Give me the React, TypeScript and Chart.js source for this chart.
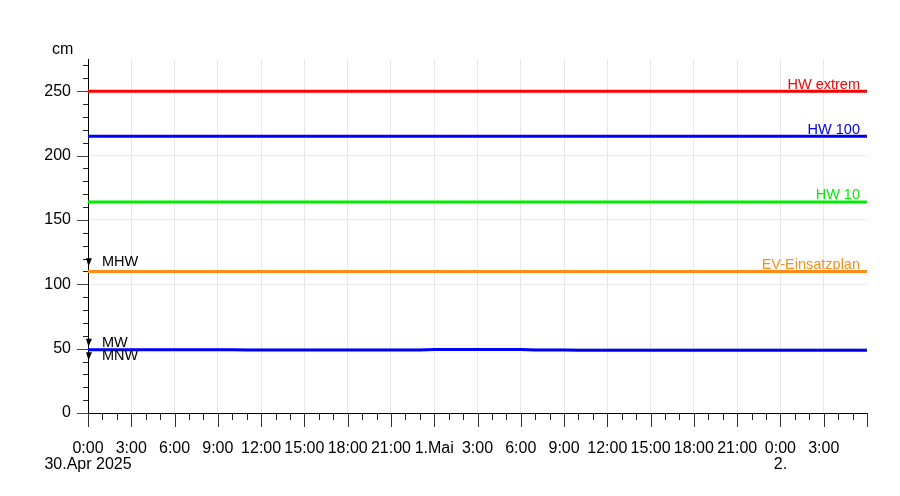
import React, { useEffect, useRef } from "react";
import { Chart, registerables } from "chart.js";

Chart.register(...registerables);

// Water level (cm), hourly from 30.Apr 2025 0:00
const levelValues = [
  49.1, 49.1, 49.1, 49.1, 49.1, 49.1, 49.1, 49.1, 49.1, 49.1, 49.1,
  48.9, 48.9, 48.9, 48.9, 48.9, 48.9, 48.9, 48.9, 48.9, 48.9, 48.9, 48.9, 48.9,
  49.3, 49.3, 49.3, 49.3, 49.3, 49.3, 49.3,
  49.0, 49.0, 49.0,
  48.8, 48.8, 48.8,
  48.7, 48.7, 48.7, 48.7, 48.7, 48.7, 48.7, 48.7, 48.7, 48.7, 48.7, 48.7, 48.7, 48.7, 48.7, 48.7, 48.7, 48.7,
];

const thresholdNames = ["HW extrem", "HW 100", "HW 10", "EV-Einsatzplan"];
const thresholdValues = [250, 215, 164, 110];
const thresholdColors = ["#ff0000", "#0000ff", "#00ee00", "#ff8c1a"];

const markerNames = ["MHW", "MW", "MNW"];
const markerValues = [114, 51.5, 41];

const dayLabels = [["0:00", "30.Apr 2025"], ["1.Mai"], ["0:00", "2."]];
const yTickValues = [0, 50, 100, 150, 200, 250];

const X_MAX = 54;
const Y_MAX = 275;
const FONT = "'Liberation Sans', Arial, Helvetica, sans-serif";

const overlay = {
  id: "overlay",
  afterDraw(chart: any) {
    const { ctx, chartArea } = chart;
    const x = chart.scales.x;
    const y = chart.scales.y;
    ctx.save();
    // x tick marks
    ctx.lineWidth = 1;
    for (let h = 0; h <= X_MAX; h++) {
      const px = Math.round(x.getPixelForValue(h)) + 0.5;
      const len = h % 3 === 0 ? 14 : 7;
      ctx.strokeStyle = h % 3 === 0 ? "#333" : "#222";
      ctx.beginPath();
      ctx.moveTo(px, chartArea.bottom);
      ctx.lineTo(px, chartArea.bottom + len);
      ctx.stroke();
    }
    // y tick marks
    for (let v = 0; v <= 270; v += 10) {
      const py = Math.round(y.getPixelForValue(v)) + 0.5;
      const len = v % 50 === 0 ? 11 : 5;
      ctx.strokeStyle = v % 50 === 0 ? "#444" : "#222";
      ctx.beginPath();
      ctx.moveTo(chartArea.left, py);
      ctx.lineTo(chartArea.left - len, py);
      ctx.stroke();
    }
    // unit
    ctx.fillStyle = "#000";
    ctx.font = `16px ${FONT}`;
    ctx.textAlign = "left";
    ctx.textBaseline = "alphabetic";
    ctx.fillText("cm", 52, chartArea.top - 5);
    // threshold labels
    ctx.font = `14.5px ${FONT}`;
    ctx.textAlign = "right";
    thresholdNames.forEach((name, i) => {
      ctx.fillStyle = thresholdColors[i];
      ctx.fillText(name, chartArea.right - 7, y.getPixelForValue(thresholdValues[i]) - 2.5);
    });
    // markers
    ctx.textAlign = "left";
    markerNames.forEach((name, i) => {
      const py = y.getPixelForValue(markerValues[i]);
      const px = chartArea.left;
      ctx.fillStyle = "#000";
      ctx.beginPath();
      ctx.moveTo(px - 2, py - 8);
      ctx.lineTo(px + 4, py - 8);
      ctx.lineTo(px + 0.5, py);
      ctx.closePath();
      ctx.fill();
      ctx.fillText(name, px + 14, py);
    });
    ctx.restore();
  },
};

export default function App() {
  const ref = useRef<HTMLCanvasElement>(null);
  useEffect(() => {
    if (!ref.current) return;
    const thresholdSets = thresholdNames.map((name, i) => ({
      label: name,
      data: [
        { x: 0, y: thresholdValues[i] },
        { x: X_MAX, y: thresholdValues[i] },
      ],
      borderColor: thresholdColors[i],
      borderWidth: 3,
      pointRadius: 0,
      fill: false,
    }));
    const chart = new Chart(ref.current, {
      type: "line",
      data: {
        datasets: [
          ...thresholdSets,
          {
            label: "Wasserstand",
            data: levelValues.map((v, i) => ({ x: i, y: v })),
            borderColor: "#0000ff",
            borderWidth: 3,
            pointRadius: 0,
            fill: false,
          },
        ],
      },
      options: {
        animation: false,
        responsive: false,
        layout: { padding: { top: 59, right: 33, left: 0, bottom: 0 } },
        plugins: { legend: { display: false }, tooltip: { enabled: false } },
        scales: {
          x: {
            type: "linear",
            min: 0,
            max: X_MAX,
            afterBuildTicks: (s: any) => {
              s.ticks = [];
              for (let h = 0; h < X_MAX; h += 3) s.ticks.push({ value: h });
            },
            afterFit: (s: any) => {
              s.height = 83;
            },
            grid: { color: "#e8e8e8", lineWidth: 1, drawTicks: false },
            border: { display: true, color: "#000", width: 1 },
            ticks: {
              autoSkip: false,
              maxRotation: 0,
              minRotation: 0,
              padding: 28,
              color: "#000",
              font: { family: FONT, size: 16, lineHeight: 1 },
              callback: (v: any) => {
                const h = Number(v);
                if (h % 24 === 0) return dayLabels[h / 24];
                return `${h % 24}:00`;
              },
            },
          },
          y: {
            type: "linear",
            min: 0,
            max: Y_MAX,
            afterBuildTicks: (s: any) => {
              s.ticks = yTickValues.map((v) => ({ value: v }));
            },
            afterFit: (s: any) => {
              s.width = 88;
            },
            grid: { color: "#e8e8e8", lineWidth: 1, drawTicks: false },
            border: { display: true, color: "#000", width: 1 },
            ticks: {
              padding: 17,
              color: "#000",
              font: { family: FONT, size: 16 },
            },
          },
        },
      },
      plugins: [overlay],
    } as any);
    return () => chart.destroy();
  }, []);
  return (
    <div style={{ position: "absolute", left: 0, top: 0, width: 900, height: 496 }}>
      <canvas ref={ref} width={900} height={496} />
    </div>
  );
}
